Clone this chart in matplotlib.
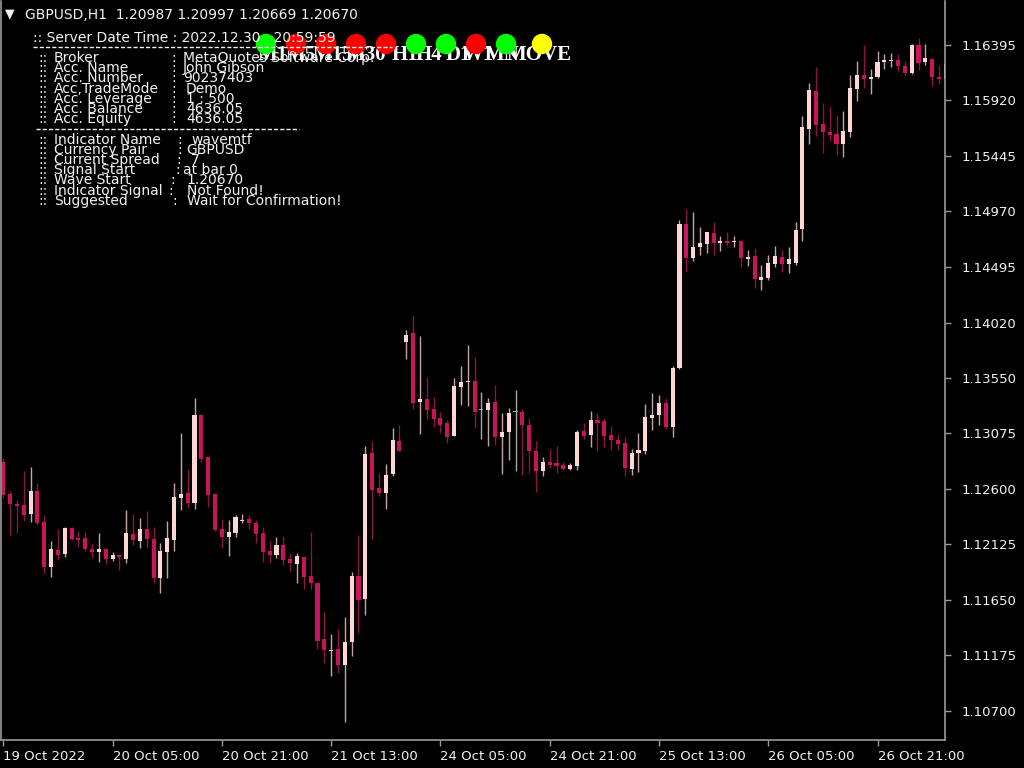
import matplotlib
matplotlib.use("Agg")
import matplotlib.pyplot as plt
from matplotlib.patches import Circle
import numpy as np

# ---------------- data ----------------
symbol_header = "GBPUSD,H1  1.20987 1.20997 1.20669 1.20670"

opens = [1.12831, 1.12555, 1.12469, 1.12461, 1.12384, 1.12578, 1.12316, 1.11928, 1.12079, 1.12045,
         1.12264, 1.12176, 1.12176, 1.12088, 1.12062, 1.12088, 1.12002, 1.12031, 1.11999, 1.12213,
         1.12156, 1.12256, 1.12170, 1.11840, 1.12059, 1.12162, 1.12518, 1.12561, 1.12481, 1.13230,
         1.12871, 1.12555, 1.12253, 1.12190, 1.12219, 1.12324, 1.12344, 1.12307, 1.12219, 1.12068,
         1.12036, 1.12119, 1.11999, 1.11959, 1.12014, 1.11854, 1.11791, 1.11316, 1.11213, 1.11227,
         1.11090, 1.11287, 1.11854, 1.11657, 1.12905, 1.12606, 1.12563, 1.12723, 1.13008, 1.13854,
         1.13934, 1.13338, 1.13370, 1.13284, 1.13204, 1.13162, 1.13053, 1.13469, 1.13509, 1.13518,
         1.13270, 1.13270, 1.13341, 1.13039, 1.13082, 1.13253, 1.13256, 1.13145, 1.12925, 1.12754,
         1.12825, 1.12820, 1.12803, 1.12768, 1.12797, 1.13093, 1.13059, 1.13187, 1.13176, 1.13059,
         1.13016, 1.12991, 1.12771, 1.12908, 1.12925, 1.13207, 1.13227, 1.13335, 1.13125, 1.13629,
         1.14860, 1.14575, 1.14666, 1.14694, 1.14786, 1.14703, 1.14714, 1.14706, 1.14714, 1.14561,
         1.14589, 1.14387, 1.14398, 1.14524, 1.14578, 1.14524, 1.14532, 1.14823, 1.15677, 1.15999,
         1.15720, 1.15649, 1.15632, 1.15549, 1.15649, 1.16014, 1.16136, 1.16102, 1.16116, 1.16244,
         1.16259, 1.16267, 1.16213, 1.16150, 1.16392, 1.16247, 1.16273, 1.16122, 1.16102]
highs = [1.12865, 1.12583, 1.12503, 1.12751, 1.12786, 1.12646, 1.12375, 1.12153, 1.12253, 1.12276,
         1.12270, 1.12239, 1.12233, 1.12130, 1.12224, 1.12090, 1.12056, 1.12036, 1.12415, 1.12384,
         1.12347, 1.12407, 1.12270, 1.12136, 1.12321, 1.12649, 1.13079, 1.12766, 1.13372, 1.13236,
         1.12875, 1.12561, 1.12341, 1.12330, 1.12378, 1.12387, 1.12375, 1.12330, 1.12273, 1.12153,
         1.12187, 1.12199, 1.12048, 1.12048, 1.12019, 1.12233, 1.11803, 1.11546, 1.11358, 1.11401,
         1.11504, 1.11891, 1.12204, 1.12965, 1.13008, 1.12737, 1.12811, 1.13116, 1.13145, 1.13957,
         1.14088, 1.13905, 1.13555, 1.13384, 1.13256, 1.13187, 1.13546, 1.13649, 1.13831, 1.13729,
         1.13424, 1.13372, 1.13486, 1.13247, 1.13290, 1.13444, 1.13278, 1.13204, 1.13008, 1.12868,
         1.12939, 1.12965, 1.12831, 1.12817, 1.13102, 1.13162, 1.13264, 1.13244, 1.13207, 1.13139,
         1.13065, 1.13045, 1.12939, 1.13073, 1.13327, 1.13418, 1.13401, 1.13372, 1.13649, 1.14897,
         1.14991, 1.14968, 1.14837, 1.14797, 1.14880, 1.14763, 1.14794, 1.14763, 1.14720, 1.14640,
         1.14655, 1.14515, 1.14595, 1.14674, 1.14637, 1.14669, 1.14880, 1.15783, 1.16065, 1.16202,
         1.15900, 1.15871, 1.15791, 1.15828, 1.16133, 1.16259, 1.16392, 1.16187, 1.16338, 1.16316,
         1.16321, 1.16313, 1.16259, 1.16398, 1.16449, 1.16401, 1.16278, 1.16222, 1.16273]
lows = [1.12518, 1.12204, 1.12219, 1.12324, 1.12313, 1.12290, 1.11882, 1.11848, 1.11991, 1.12019,
        1.12165, 1.12105, 1.12068, 1.12011, 1.11971, 1.11959, 1.11979, 1.11905, 1.11962, 1.12116,
        1.12096, 1.12096, 1.11797, 1.11712, 1.11840, 1.12065, 1.12418, 1.12438, 1.12424, 1.12826,
        1.12447, 1.12241, 1.12096, 1.12022, 1.12190, 1.12304, 1.12258, 1.12139, 1.11977, 1.11968,
        1.12011, 1.11951, 1.11900, 1.11797, 1.11746, 1.11740, 1.11230, 1.11113, 1.11002, 1.11028,
        1.10609, 1.11173, 1.11364, 1.11521, 1.12170, 1.12541, 1.12424, 1.12712, 1.12920, 1.13709,
        1.13284, 1.13068, 1.13199, 1.13130, 1.13079, 1.12994, 1.13051, 1.13313, 1.13307, 1.13122,
        1.13022, 1.12965, 1.12974, 1.12729, 1.12848, 1.12754, 1.12717, 1.12737, 1.12575, 1.12712,
        1.12774, 1.12737, 1.12760, 1.12760, 1.12760, 1.13022, 1.12959, 1.12922, 1.12959, 1.12928,
        1.12928, 1.12712, 1.12717, 1.12740, 1.12900, 1.13102, 1.13145, 1.13108, 1.13045, 1.13623,
        1.14455, 1.14549, 1.14598, 1.14618, 1.14600, 1.14635, 1.14677, 1.14663, 1.14498, 1.14504,
        1.14313, 1.14298, 1.14387, 1.14498, 1.14452, 1.14447, 1.14509, 1.14714, 1.15546, 1.15618,
        1.15467, 1.15575, 1.15452, 1.15438, 1.15603, 1.15911, 1.16028, 1.15971, 1.16110, 1.16190,
        1.16207, 1.16170, 1.16139, 1.16147, 1.16182, 1.16224, 1.16045, 1.16059, 1.16051]
closes = [1.12546, 1.12469, 1.12455, 1.12375, 1.12583, 1.12310, 1.11931, 1.12088, 1.12036, 1.12264,
          1.12170, 1.12162, 1.12082, 1.12059, 1.12088, 1.12002, 1.12033, 1.12019, 1.12219, 1.12162,
          1.12256, 1.12170, 1.11840, 1.12068, 1.12176, 1.12532, 1.12555, 1.12481, 1.13230, 1.12854,
          1.12546, 1.12247, 1.12184, 1.12227, 1.12361, 1.12335, 1.12310, 1.12213, 1.12059, 1.12036,
          1.12119, 1.11991, 1.11968, 1.12025, 1.11848, 1.11791, 1.11301, 1.11221, 1.11221, 1.11090,
          1.11293, 1.11854, 1.11652, 1.12897, 1.12592, 1.12563, 1.12717, 1.13014, 1.12925, 1.13914,
          1.13335, 1.13364, 1.13273, 1.13199, 1.13147, 1.13045, 1.13478, 1.13509, 1.13521, 1.13259,
          1.13270, 1.13333, 1.13039, 1.13085, 1.13247, 1.13253, 1.13147, 1.12922, 1.12754, 1.12825,
          1.12805, 1.12797, 1.12768, 1.12803, 1.13085, 1.13053, 1.13187, 1.13162, 1.13053, 1.13016,
          1.12985, 1.12777, 1.12905, 1.12934, 1.13210, 1.13230, 1.13335, 1.13125, 1.13635, 1.14860,
          1.14575, 1.14669, 1.14697, 1.14794, 1.14700, 1.14714, 1.14697, 1.14714, 1.14569, 1.14580,
          1.14390, 1.14407, 1.14529, 1.14589, 1.14524, 1.14561, 1.14814, 1.15692, 1.16005, 1.15706,
          1.15649, 1.15623, 1.15549, 1.15655, 1.16025, 1.16136, 1.16099, 1.16116, 1.16244, 1.16267,
          1.16267, 1.16213, 1.16150, 1.16392, 1.16241, 1.16281, 1.16119, 1.16099, 1.16230]

time_labels = ["19 Oct 2022", "20 Oct 05:00", "20 Oct 21:00", "21 Oct 13:00", "24 Oct 05:00",
               "24 Oct 21:00", "25 Oct 13:00", "26 Oct 05:00", "26 Oct 21:00"]
bars_per_label = 16

price_ticks = [1.16395, 1.15920, 1.15445, 1.14970, 1.14495, 1.14020, 1.13550,
               1.13075, 1.12600, 1.12125, 1.11650, 1.11175, 1.10700]

timeframes = ["M1", "M5", "M15", "M30", "H1", "H4", "D1", "W1", "MN", "MOVE"]
signal_states = ["up", "down", "down", "down", "down", "up", "up", "down", "up", "wait"]

server_line = ":: Server Date Time : 2022.12.30   20:59:59"
account_labels = ["Broker", "Acc. Name", "Acc. Number", "Acc,TradeMode", "Acc. Leverage",
                  "Acc. Balance", "Acc. Equity"]
account_values = ["MetaQuotes Software Corp.", "John Gibson", "90237403", "Demo", "1 : 500",
                  "4636.05", "4636.05"]
indicator_labels = ["Indicator Name", "Currency Pair", "Current Spread", "Signal Start",
                    "Wave Start", "Indicator Signal", "Suggested"]
indicator_values = ["wavemtf", "GBPUSD", "7", "at bar 0", "1.20670", "Not Found!",
                    "Wait for Confirmation!"]

# ---------------- style ----------------
BG = "#000000"
BULL_BODY = "#ffd6d6"
BEAR_BODY = "#c8145a"
BULL_WICK = "#c4a4a4"
BEAR_WICK = "#8e1346"
DOJI = "#a8a8a8"
FRAME = "#9a9a9a"
TXT = "#f2f2f2"
SIG_COL = {"up": "#00ff00", "down": "#ff0000", "wait": "#ffff00"}

W, H = 1024, 768
fig = plt.figure(figsize=(W / 100, H / 100), dpi=100, facecolor=BG)
ax = fig.add_axes([1 / W, 28 / H, 944 / W, 739 / H], facecolor=BG)

o = np.array(opens); h = np.array(highs); l = np.array(lows); c = np.array(closes)
x = np.arange(len(o))
bull = c > o
bear = c < o

body_col = np.where(bull, BULL_BODY, np.where(bear, BEAR_BODY, DOJI))
wick_col = np.where(bull, BULL_WICK, np.where(bear, BEAR_WICK, DOJI))

ax.vlines(x, l, h, colors=wick_col, linewidth=1.0, zorder=1)
bottoms = np.minimum(o, c)
heights = np.maximum(np.abs(c - o), 0.00009)
ax.bar(x, heights, bottom=bottoms, width=0.6, color=body_col, linewidth=0, zorder=2)

ax.set_xlim(-0.337, 137.88)
ax.set_ylim(1.104523, 1.167685)

for s in ax.spines.values():
    s.set_color(FRAME)
    s.set_linewidth(1.2)
ax.spines["top"].set_visible(False)

ax.set_xticks([bars_per_label * k for k in range(len(time_labels))])
ax.set_xticklabels(time_labels, ha="left")
ax.yaxis.tick_right()
ax.set_yticks(price_ticks)
ax.set_yticklabels([f"{v:.5f}" for v in price_ticks])
ax.tick_params(axis="x", direction="out", length=4, width=1, color=FRAME,
               labelcolor=TXT, labelsize=9.5, pad=3)
ax.tick_params(axis="y", direction="out", length=4, width=1, color=FRAME,
               labelcolor=TXT, labelsize=9.5, pad=8)

# ---------------- overlay (pixel coordinates) ----------------
ov = fig.add_axes([0, 0, 1, 1])
ov.set_xlim(0, W)
ov.set_ylim(H, 0)
ov.axis("off")
ov.patch.set_alpha(0)

fs = 10
ov.text(10, 14, "▼", color=TXT, fontsize=9, ha="center", va="center")
ov.text(25, 19, symbol_header, color=TXT, fontsize=fs, va="baseline")

# timeframe labels (bold serif)
label_x = [258, 286, 313, 346, 392, 416, 446, 463, 485, 507]
for name, lx in zip(timeframes, label_x):
    ov.text(lx, 59.5, name, color="white", fontsize=15, fontweight="bold",
            family="Liberation Serif", va="baseline", zorder=1)

# signal dots
dot_x = [266 + 30 * i for i in range(len(timeframes) - 1)] + [542]
for dx, st in zip(dot_x, signal_states):
    ov.add_patch(Circle((dx, 44), 9.5, color=SIG_COL[st], zorder=2))

ov.text(33, 42, server_line, color=TXT, fontsize=fs, va="baseline", zorder=3)
ov.plot([33, 392], [46.5, 46.5], color=TXT, lw=1, ls=(0, (3, 1.5)), zorder=4)
ov.plot([36, 299], [128.5, 128.5], color=TXT, lw=1, ls=(0, (3, 1.5)), zorder=4)

acc_colon = [171, 171, 171, 171, 171, 171, 171]
acc_val_x = [183, 183, 183, 186, 186, 186, 186]
ind_colon = [177, 177, 176, 175, 170, 168, 172]
ind_val_x = [191, 186, 191, 183, 186, 187, 187]

def row(k, label, colon_x, val_x, value):
    yb = 57 + 10.2 * k + 5
    ov.text(38, yb, "::", color=TXT, fontsize=fs, va="baseline", zorder=3)
    ov.text(54, yb, label, color=TXT, fontsize=fs, va="baseline", zorder=3)
    ov.text(colon_x, yb, ":", color=TXT, fontsize=fs, va="baseline", zorder=3)
    ov.text(val_x, yb, value, color=TXT, fontsize=fs, va="baseline", zorder=3)

for k in range(len(account_labels)):
    row(k, account_labels[k], acc_colon[k], acc_val_x[k], account_values[k])
for k in range(len(indicator_labels)):
    row(k + 8, indicator_labels[k], ind_colon[k], ind_val_x[k], indicator_values[k])

fig.savefig("out.png", dpi=100, facecolor=BG)
